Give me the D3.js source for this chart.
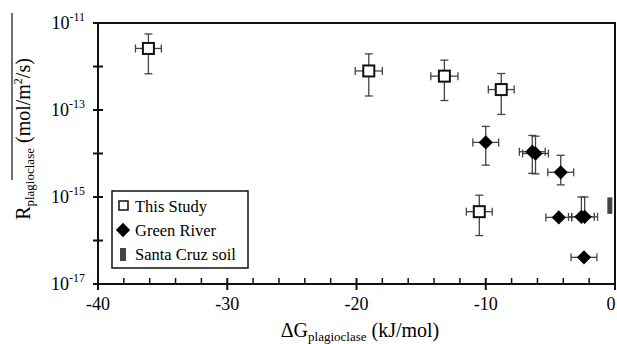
<!DOCTYPE html>
<html>
<head>
<meta charset="utf-8">
<script src="https://cdn.jsdelivr.net/npm/d3@7"></script>
<style>
  body { margin: 0; background: #fff; }
  svg { font-family: "Liberation Serif", "DejaVu Serif", serif; }
</style>
</head>
<body>
<script>
// This Study (open squares)
const studyX    = [-36.1, -19.05, -13.2, -8.8, -10.5];
const studyY    = [2.6e-12, 7.9e-13, 6.0e-13, 2.95e-13, 4.6e-16];
const studyYHi  = [5.6e-12, 1.95e-12, 1.4e-12, 6.9e-13, 1.1e-15];
const studyYLo  = [6.8e-13, 2.1e-13, 1.65e-13, 7.9e-14, 1.3e-16];
const studyXErr = [1.0, 1.05, 1.05, 1.0, 1.0];

// Green River (filled diamonds)
const greenX    = [-10.0, -6.4, -6.15, -4.2, -4.35, -2.6, -2.35, -2.4];
const greenY    = [1.8e-14, 1.1e-14, 1.0e-14, 3.7e-15, 3.4e-16, 3.5e-16, 3.5e-16, 4.1e-17];
const greenYHi  = [4.2e-14, 2.6e-14, 2.5e-14, 9.1e-15, 3.4e-16, 1.0e-15, 1.0e-15, 4.1e-17];
const greenYLo  = [5.4e-15, 3.5e-15, 3.4e-15, 1.9e-15, 3.4e-16, 3.5e-16, 3.5e-16, 4.1e-17];
const greenXErr = [1.0, 1.0, 1.0, 1.0, 1.0, 1.0, 1.0, 1.0];

// Santa Cruz soil (range bar)
const santaX  = [-0.4];
const santaLo = [4.1e-16];
const santaHi = [9.8e-16];

const yMajor = [1e-11, 1e-13, 1e-15, 1e-17];
const yMajorExp = ["-11", "-13", "-15", "-17"];
const yMinor = [1e-12, 1e-14, 1e-16];
const xMajor = [-40, -30, -20, -10, 0];
const xMinor = [-38, -36, -34, -32, -28, -26, -24, -22, -18, -16, -14, -12, -8, -6, -4, -2];

const legendItems = ["This Study", "Green River", "Santa Cruz soil"];

const W = 617, H = 344;
const x = d3.scaleLinear().domain([-40, 0]).range([98, 615]);
const y = d3.scaleLog().domain([1e-17, 1e-11]).range([284, 23]);

const svg = d3.select("body").append("svg")
    .attr("width", W).attr("height", H);

// frame
svg.append("rect")
    .attr("x", x(-40)).attr("y", y(1e-11))
    .attr("width", x(0) - x(-40)).attr("height", y(1e-17) - y(1e-11))
    .attr("fill", "none").attr("stroke", "#111").attr("stroke-width", 2);

// y ticks
svg.selectAll("line.ymaj").data(yMajor.concat(yMinor)).join("line")
    .attr("x1", x(-40) - 5).attr("x2", x(-40) + 5)
    .attr("y1", d => y(d)).attr("y2", d => y(d))
    .attr("stroke", "#111").attr("stroke-width", 2);

const yl = svg.selectAll("text.ylab").data(yMajor).join("text")
    .attr("x", 85).attr("y", d => y(d) + 6)
    .attr("text-anchor", "end")
    .attr("font-size", 18);
yl.append("tspan").text("10");
yl.append("tspan").attr("font-size", 12).attr("dy", -8).text((d, i) => yMajorExp[i]);

// x ticks
svg.selectAll("line.xmaj").data(xMajor).join("line")
    .attr("x1", d => x(d)).attr("x2", d => x(d))
    .attr("y1", y(1e-17) - 6).attr("y2", y(1e-17) + 6)
    .attr("stroke", "#111").attr("stroke-width", 2);
svg.selectAll("line.xmin").data(xMinor).join("line")
    .attr("x1", d => x(d)).attr("x2", d => x(d))
    .attr("y1", y(1e-17) - 6).attr("y2", y(1e-17))
    .attr("stroke", "#111").attr("stroke-width", 1.5);
svg.selectAll("text.xlab").data(xMajor).join("text")
    .attr("x", d => Math.min(x(d), 611)).attr("y", 310)
    .attr("text-anchor", "middle").attr("font-size", 18)
    .text(d => d);

// axis titles
const xt = svg.append("text")
    .attr("x", 360).attr("y", 337)
    .attr("text-anchor", "middle").attr("font-size", 20);
xt.append("tspan").text("ΔG");
xt.append("tspan").attr("font-size", 13).attr("dy", 4).text("plagioclase");
xt.append("tspan").attr("dy", -4).text(" (kJ/mol)");

const yt = svg.append("text")
    .attr("transform", "translate(30,139) rotate(-90)")
    .attr("text-anchor", "middle").attr("font-size", 20);
yt.append("tspan").text("R");
yt.append("tspan").attr("font-size", 13).attr("dy", 4).text("plagioclase");
yt.append("tspan").attr("dy", -4).text(" (mol/m");
yt.append("tspan").attr("font-size", 12).attr("dy", -8).text("2");
yt.append("tspan").attr("dy", 8).text("/s)");
svg.append("line")
    .attr("x1", 12).attr("x2", 12).attr("y1", 13).attr("y2", 180)
    .attr("stroke", "#111").attr("stroke-width", 1.2);

// error bars helper
function errBars(xs, ys, lo, hi, xe) {
  const g = svg.append("g").attr("stroke", "#444").attr("stroke-width", 1.3).attr("fill", "none");
  xs.forEach((xv, i) => {
    const cx = x(xv), cy = y(ys[i]);
    if (hi[i] !== lo[i]) {
      g.append("line").attr("x1", cx).attr("x2", cx).attr("y1", y(hi[i])).attr("y2", y(lo[i]));
      [hi[i], lo[i]].forEach(v => {
        if (v !== ys[i]) g.append("line").attr("x1", cx - 4).attr("x2", cx + 4).attr("y1", y(v)).attr("y2", y(v));
      });
    }
    const xl = x(xv - xe[i]), xr = x(xv + xe[i]);
    g.append("line").attr("x1", xl).attr("x2", xr).attr("y1", cy).attr("y2", cy);
    [xl, xr].forEach(v => g.append("line").attr("x1", v).attr("x2", v).attr("y1", cy - 4).attr("y2", cy + 4));
  });
}

errBars(studyX, studyY, studyYLo, studyYHi, studyXErr);
errBars(greenX, greenY, greenYLo, greenYHi, greenXErr);

// This Study squares
svg.selectAll("rect.study").data(studyX).join("rect")
    .attr("x", d => x(d) - 5.5).attr("y", (d, i) => y(studyY[i]) - 5.5)
    .attr("width", 11).attr("height", 11)
    .attr("fill", "#fff").attr("stroke", "#111").attr("stroke-width", 2);

// Green River diamonds
const diamond = d3.symbol().type(d3.symbolDiamond2).size(130);
svg.selectAll("path.green").data(greenX).join("path")
    .attr("transform", (d, i) => `translate(${x(d)},${y(greenY[i])})`)
    .attr("d", diamond)
    .attr("fill", "#000");

// Santa Cruz bar
svg.selectAll("rect.santa").data(santaX).join("rect")
    .attr("x", d => x(d) - 2.5).attr("y", (d, i) => y(santaHi[i]))
    .attr("width", 5).attr("height", (d, i) => y(santaLo[i]) - y(santaHi[i]))
    .attr("fill", "#444");

// legend
const lg = svg.append("g");
lg.append("rect").attr("x", 112).attr("y", 191).attr("width", 136).attr("height", 77)
    .attr("fill", "#fff").attr("stroke", "#111").attr("stroke-width", 1.5);
lg.append("rect").attr("x", 119).attr("y", 201).attr("width", 9).attr("height", 9)
    .attr("fill", "#fff").attr("stroke", "#111").attr("stroke-width", 1.5);
lg.append("path").attr("transform", "translate(123,230)").attr("d", diamond).attr("fill", "#000");
lg.append("rect").attr("x", 120).attr("y", 248).attr("width", 6).attr("height", 13).attr("fill", "#444");
lg.selectAll("text").data(legendItems).join("text")
    .attr("x", 135).attr("y", (d, i) => 212 + i * 24)
    .attr("font-size", 16.5).text(d => d);
</script>
</body>
</html>
